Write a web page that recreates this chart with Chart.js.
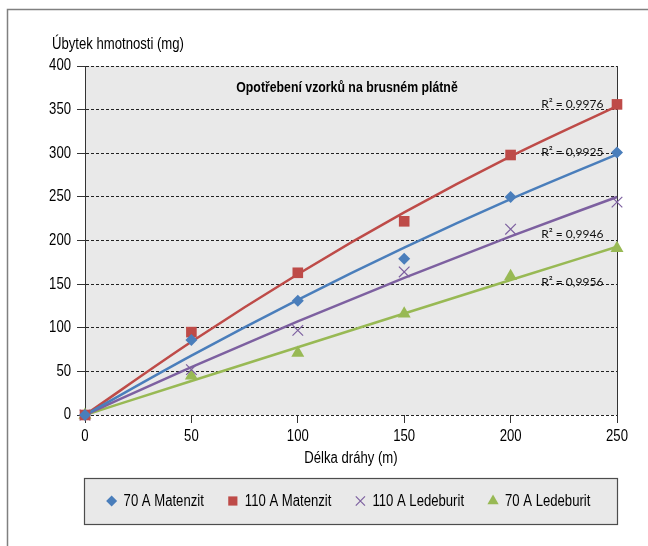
<!DOCTYPE html>
<html>
<head>
<meta charset="utf-8">
<script src="https://cdn.jsdelivr.net/npm/chart.js@4.4.1/dist/chart.umd.min.js"></script>
<style>
  html, body { margin: 0; padding: 0; background: #fff; overflow: hidden; }
  #wearChart { display: block; }
</style>
</head>
<body>
<canvas id="wearChart" width="648" height="546"></canvas>
<script>
// Values
const distances = [0, 50, 100, 150, 200, 250];
const matenzit70 = [0, 86, 131, 179, 250, 301];
const matenzit110 = [0, 95, 163, 222, 298, 356];
const ledeburit110 = [0, 52, 97, 164, 213, 244];
const ledeburit70 = [0, 45, 71, 116, 159, 191];
const seriesNames = ['70 A Matenzit', '110 A Matenzit', '110 A Ledeburit', '70 A Ledeburit'];
const r2Texts = ['R² = 0,9925', 'R² = 0,9976', 'R² = 0,9946', 'R² = 0,9956'];
const xTicks = [0, 50, 100, 150, 200, 250];
const yTicks = [0, 50, 100, 150, 200, 250, 300, 350, 400];

const seriesValues = [matenzit70, matenzit110, ledeburit110, ledeburit70];
const colors = ['#4a7ebb', '#be4b48', '#7d60a0', '#98b954'];
const markers = [
  { style: 'rectRot', radius: 6 },
  { style: 'rect', radius: 7.5 },
  { style: 'crossRot', radius: 7.5 },
  { style: 'triangle', radius: 7.5 }
];
// where the R² labels sit (data units)
const r2LabelX = 229;
const r2LabelY = [301, 356, 207, 152];

// no Arial Narrow here: Liberation Sans squeezed to 82% width does the job
const squeeze = 0.82;
function narrowText(ctx, text, x, y, align, size, bold) {
  ctx.save();
  ctx.font = (bold ? 'bold ' : '') + size + "px 'Liberation Sans', Arial, sans-serif";
  ctx.textAlign = align;
  ctx.textBaseline = 'middle';
  ctx.translate(x, y);
  ctx.scale(squeeze, 1);
  ctx.fillText(text, 0, 0);
  ctx.restore();
}
function narrowWidth(ctx, text, size) {
  ctx.save();
  ctx.font = size + "px 'Liberation Sans', Arial, sans-serif";
  const w = ctx.measureText(text).width * squeeze;
  ctx.restore();
  return w;
}

// 2nd order trend through origin: y = b*x + c*x^2
function fitQuadratic(xs, ys) {
  let s2 = 0, s3 = 0, s4 = 0, sxy = 0, sx2y = 0;
  xs.forEach((x, i) => {
    s2 += x * x; s3 += x * x * x; s4 += x * x * x * x;
    sxy += x * ys[i]; sx2y += x * x * ys[i];
  });
  const det = s2 * s4 - s3 * s3;
  const b = (sxy * s4 - s3 * sx2y) / det;
  const c = (s2 * sx2y - s3 * sxy) / det;
  return x => b * x + c * x * x;
}

const datasets = [];
seriesValues.forEach((vals, i) => {
  datasets.push({
    label: seriesNames[i],
    data: distances.map((x, j) => ({ x: x, y: vals[j] })),
    showLine: false,
    pointStyle: markers[i].style,
    pointRadius: markers[i].radius,
    pointHoverRadius: markers[i].radius,
    pointBackgroundColor: colors[i],
    pointBorderColor: colors[i],
    pointBorderWidth: i === 2 ? 1.2 : 0,
    clip: false,
    order: 1
  });
});
seriesValues.forEach((vals, i) => {
  const f = fitQuadratic(distances, vals);
  datasets.push({
    label: 'trend' + i,
    data: distances.map(x => ({ x: x, y: f(x) })),
    showLine: true,
    borderColor: colors[i],
    borderWidth: 2.5,
    pointRadius: 0,
    cubicInterpolationMode: 'monotone',
    clip: false,
    order: 2
  });
});

const decorations = {
  id: 'decorations',
  beforeDraw(chart) {
    const { ctx, chartArea: a } = chart;
    ctx.save();
    ctx.fillStyle = '#fff';
    ctx.fillRect(0, 0, chart.width, chart.height);
    ctx.strokeStyle = '#808080';
    ctx.lineWidth = 1.5;
    ctx.strokeRect(7.5, 9.5, chart.width + 20, chart.height + 20);
    ctx.fillStyle = '#e9e9e9';
    ctx.fillRect(a.left, a.top, a.right - a.left, a.bottom - a.top);
    ctx.restore();
  },
  beforeDatasetsDraw(chart) {
    const { ctx, chartArea: a } = chart;
    ctx.save();
    ctx.strokeStyle = '#333';
    ctx.lineWidth = 1;
    ctx.beginPath();
    ctx.moveTo(a.right + 0.5, a.top);
    ctx.lineTo(a.right + 0.5, a.bottom);
    ctx.stroke();
    ctx.restore();
  },
  afterDatasetsDraw(chart) {
    const { ctx, scales } = chart;
    ctx.save();
    ctx.font = "12px Lato, 'Open Sans', sans-serif";
    ctx.fillStyle = '#111';
    ctx.textAlign = 'center';
    ctx.textBaseline = 'middle';
    r2Texts.forEach((t, i) => {
      ctx.fillText(t, scales.x.getPixelForValue(r2LabelX), scales.y.getPixelForValue(r2LabelY[i]));
    });
    ctx.restore();
  },
  afterDraw(chart) {
    const { ctx, chartArea: a, scales } = chart;
    ctx.save();
    ctx.fillStyle = '#000';

    // tick labels
    yTicks.forEach(v => narrowText(ctx, String(v), a.left - 14, scales.y.getPixelForValue(v), 'right', 16));
    xTicks.forEach(v => narrowText(ctx, String(v), scales.x.getPixelForValue(v), a.bottom + 22, 'center', 16));
    // axis titles
    narrowText(ctx, 'Délka dráhy (m)', (a.left + a.right) / 2, a.bottom + 44, 'center', 16);
    narrowText(ctx, 'Úbytek hmotnosti (mg)', 52, a.top - 21, 'left', 16);
    // chart title inside plot
    narrowText(ctx, 'Opotřebení vzorků na brusném plátně', (a.left + a.right) / 2 - 4, a.top + 22, 'center', 15, true);

    // legend box
    const boxTop = a.bottom + 63, boxBottom = a.bottom + 109;
    const boxLeft = a.left - 1, boxRight = a.right;
    ctx.fillStyle = '#e9e9e9';
    ctx.fillRect(boxLeft, boxTop, boxRight - boxLeft, boxBottom - boxTop);
    ctx.strokeStyle = '#4d4d4d';
    ctx.lineWidth = 1.2;
    ctx.strokeRect(boxLeft + 0.5, boxTop + 0.5, boxRight - boxLeft, boxBottom - boxTop);

    const widths = seriesNames.map(n => narrowWidth(ctx, n, 16));
    const textOff = 12, itemGap = 29;
    const total = 5 + widths.reduce((s, w) => s + w, 0) + textOff * 4 + itemGap * 3;
    let x = (boxLeft + boxRight) / 2 - total / 2 + 3;
    const cy = (boxTop + boxBottom) / 2;
    seriesNames.forEach((n, i) => {
      ctx.fillStyle = colors[i];
      ctx.strokeStyle = colors[i];
      ctx.lineWidth = 1.2;
      Chart.helpers.drawPoint(ctx, {
        pointStyle: markers[i].style,
        radius: i === 0 ? 5.5 : 6.5,
        rotation: 0,
        borderWidth: i === 2 ? 1.2 : 0
      }, x, cy);
      ctx.fillStyle = '#000';
      narrowText(ctx, n, x + textOff, cy + 1, 'left', 16);
      x += textOff + widths[i] + itemGap;
    });
    ctx.restore();
  }
};

const ctx = document.getElementById('wearChart').getContext('2d');

new Chart(ctx, {
  type: 'scatter',
  data: { datasets: datasets },
  plugins: [decorations],
  options: {
    responsive: false,
    animation: false,
    devicePixelRatio: 1,
    layout: { padding: { left: 0, right: 31, top: 66, bottom: 77 } },
    plugins: {
      legend: { display: false },
      tooltip: { enabled: false }
    },
    scales: {
      x: {
        type: 'linear',
        min: 0,
        max: 250,
        afterBuildTicks: s => { s.ticks = xTicks.map(v => ({ value: v })); },
        afterFit: s => { s.height = 54; },
        ticks: { display: false },
        grid: { drawOnChartArea: false, drawTicks: true, tickLength: 8, tickColor: '#333' },
        border: { display: false }
      },
      y: {
        type: 'linear',
        min: 0,
        max: 400,
        afterBuildTicks: s => { s.ticks = yTicks.map(v => ({ value: v })); },
        afterFit: s => { s.width = 85; },
        ticks: { display: false },
        grid: { color: '#222', lineWidth: 1, tickLength: 8, tickColor: '#333', tickBorderDash: [] },
        border: { display: true, color: '#333', width: 1, dash: [3, 2] }
      }
    }
  }
});
</script>
</body>
</html>
